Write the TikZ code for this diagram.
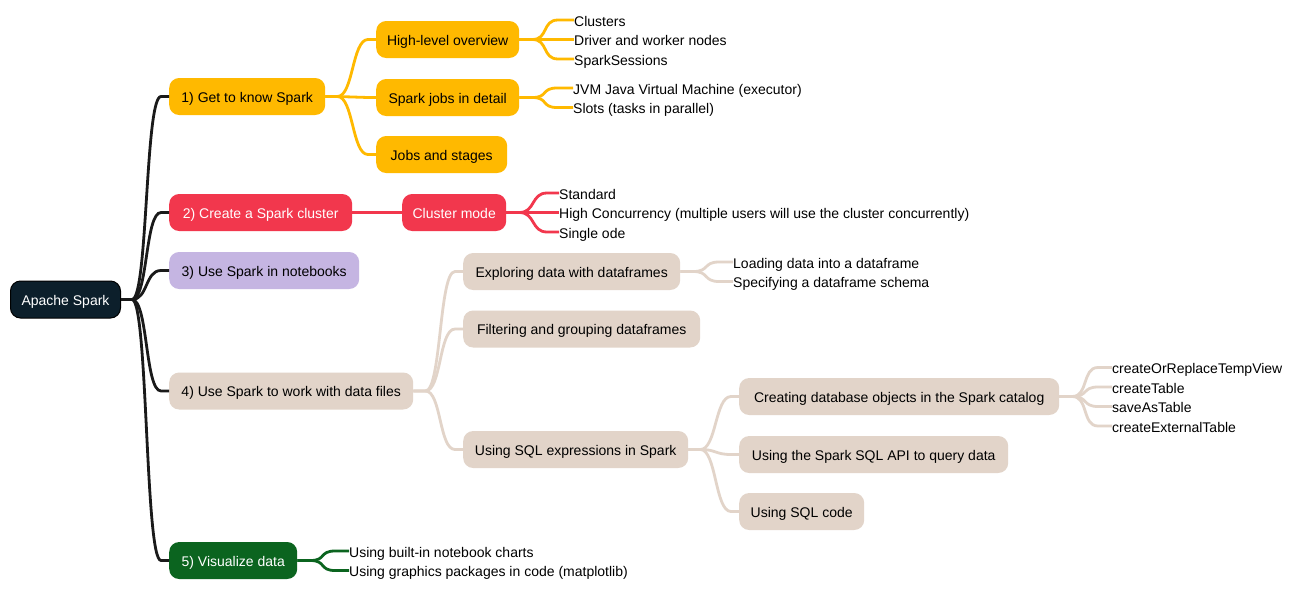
\documentclass[tikz,border=0pt]{standalone}
\usepackage{fontspec}
\setmainfont{Liberation Sans}
\usetikzlibrary{calc}
\definecolor{rootc}{HTML}{0C1F2B}
\definecolor{amber}{HTML}{FFB900}
\definecolor{redc}{HTML}{F2374D}
\definecolor{lav}{HTML}{C5B5E2}
\definecolor{beige}{HTML}{E2D4C9}
\definecolor{greenc}{HTML}{0B641F}
\definecolor{linek}{HTML}{1A1A1A}
\tikzset{
  mmbox/.style={rectangle, rounded corners=10pt, minimum width=#1, minimum height=37pt,
    inner xsep=6pt, inner ysep=0pt, text height=11.5pt, text depth=0pt, anchor=west,
    font=\fontsize{14}{16}\selectfont},
  mmleaf/.style={inner sep=0pt, anchor=west, text height=12.5pt, text depth=0pt,
    font=\fontsize{14}{16}\selectfont},
  blkline/.style={draw=linek, line width=2.8pt},
  ambline/.style={draw=amber, line width=2.8pt},
  redline/.style={draw=redc, line width=2.8pt},
  beiline/.style={draw=beige, line width=2.8pt},
  grnline/.style={draw=greenc, line width=2.8pt},
}
\newcommand{\mmlink}[5]{\draw[#3] (#1.east) -- ($(#1.east)+(#4,0)$) .. controls ($(#1.east)+(#4+16,0)$) and ($(#2.west)+(-#5-16,0)$) .. ($(#2.west)+(-#5,0)$) -- (#2.west);}
\begin{document}
\begin{tikzpicture}[x=1pt,y=-1pt]
\path[use as bounding box, fill=white] (0,0) rectangle (1296,600);
% root
\node[mmbox=110pt, fill=rootc, draw=black, line width=1pt, text=white] (root) at (10,299.5) {Apache Spark};
% level 1
\node[mmbox=156pt, fill=amber, text=black] (g1) at (169,96.5) {1) Get to know Spark};
\node[mmbox=183pt, fill=redc, text=white] (g2) at (169,212.5) {2) Create a Spark cluster};
\node[mmbox=190pt, fill=lav, text=black] (g3) at (169,270.5) {3) Use Spark in notebooks};
\node[mmbox=244pt, fill=beige, text=black] (g4) at (169,391) {4) Use Spark to work with data files};
\node[mmbox=128pt, fill=greenc, text=white] (g5) at (169,560.5) {5) Visualize data};
% level 2, branch 1
\node[mmbox=143pt, fill=amber] (hl) at (376,39.5) {High-level overview};
\node[mmbox=143pt, fill=amber] (sj) at (376,97.5) {Spark jobs in detail};
\node[mmbox=131pt, fill=amber] (js) at (376,154.5) {Jobs and stages};
\node[mmleaf] (l11) at (574,20) {Clusters};
\node[mmleaf] (l12) at (574,39.5) {Driver and worker nodes};
\node[mmleaf] (l13) at (574,59) {SparkSessions};
\node[mmleaf] (l21) at (573,88) {JVM Java Virtual Machine (executor)};
\node[mmleaf] (l22) at (573,107.5) {Slots (tasks in parallel)};
% branch 2
\node[mmbox=104pt, fill=redc, text=white] (cm) at (402,212.5) {Cluster mode};
\node[mmleaf] (c1) at (559,193) {Standard};
\node[mmleaf] (c2) at (559,212.5) {High Concurrency (multiple users will use the cluster concurrently)};
\node[mmleaf] (c3) at (559,232) {Single ode};
% branch 4
\node[mmbox=217pt, fill=beige] (ex) at (463,271.5) {Exploring data with dataframes};
\node[mmbox=237pt, fill=beige] (fg) at (463,329) {Filtering and grouping dataframes};
\node[mmbox=225pt, fill=beige] (sq) at (463,449.5) {Using SQL expressions in Spark};
\node[mmleaf] (e1) at (733,262) {Loading data into a dataframe};
\node[mmleaf] (e2) at (733,281.5) {Specifying a dataframe schema};
\node[mmbox=320pt, fill=beige] (cd) at (739,396.5) {Creating database objects in the Spark catalog};
\node[mmbox=269pt, fill=beige] (ap) at (739,454.5) {Using the Spark SQL API to query data};
\node[mmbox=125pt, fill=beige] (sc) at (739,511.5) {Using SQL code};
\node[mmleaf] (d1) at (1112,367.5) {createOrReplaceTempView};
\node[mmleaf] (d2) at (1112,387) {createTable};
\node[mmleaf] (d3) at (1112,406.5) {saveAsTable};
\node[mmleaf] (d4) at (1112,426) {createExternalTable};
% branch 5
\node[mmleaf] (v1) at (349,551) {Using built-in notebook charts};
\node[mmleaf] (v2) at (349,570.5) {Using graphics packages in code (matplotlib)};
% connectors
\mmlink{root}{g1}{blkline}{11}{8}
\mmlink{root}{g2}{blkline}{11}{8}
\mmlink{root}{g3}{blkline}{11}{8}
\mmlink{root}{g4}{blkline}{11}{8}
\mmlink{root}{g5}{blkline}{11}{8}
\mmlink{g1}{hl}{ambline}{12}{8}
\mmlink{g1}{sj}{ambline}{12}{8}
\mmlink{g1}{js}{ambline}{12}{8}
\mmlink{hl}{l11}{ambline}{13}{16}
\mmlink{hl}{l12}{ambline}{13}{16}
\mmlink{hl}{l13}{ambline}{13}{16}
\mmlink{sj}{l21}{ambline}{13}{16}
\mmlink{sj}{l22}{ambline}{13}{16}
\mmlink{g2}{cm}{redline}{12}{8}
\mmlink{cm}{c1}{redline}{13}{12}
\mmlink{cm}{c2}{redline}{13}{12}
\mmlink{cm}{c3}{redline}{13}{12}
\mmlink{g4}{ex}{beiline}{12}{8}
\mmlink{g4}{fg}{beiline}{12}{8}
\mmlink{g4}{sq}{beiline}{12}{8}
\mmlink{ex}{e1}{beiline}{13}{14}
\mmlink{ex}{e2}{beiline}{13}{14}
\mmlink{sq}{cd}{beiline}{12}{8}
\mmlink{sq}{ap}{beiline}{12}{8}
\mmlink{sq}{sc}{beiline}{12}{8}
\mmlink{cd}{d1}{beiline}{13}{14}
\mmlink{cd}{d2}{beiline}{13}{14}
\mmlink{cd}{d3}{beiline}{13}{14}
\mmlink{cd}{d4}{beiline}{13}{14}
\mmlink{g5}{v1}{grnline}{13}{14}
\mmlink{g5}{v2}{grnline}{13}{14}
\end{tikzpicture}
\end{document}
